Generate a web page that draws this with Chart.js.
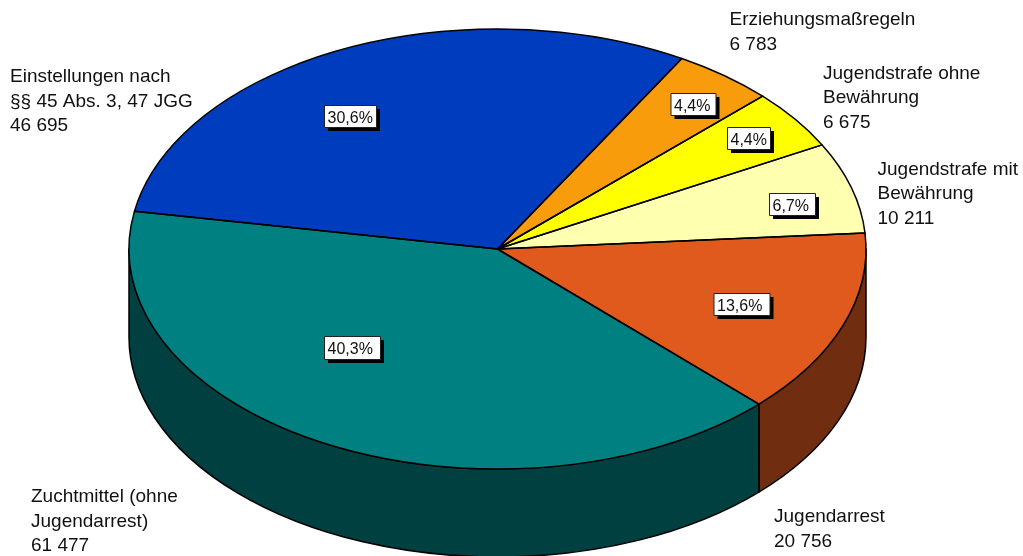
<!DOCTYPE html>
<html lang="de">
<head>
<meta charset="utf-8">
<title>Pie</title>
<script src="https://cdn.jsdelivr.net/npm/chart.js@4"></script>
<style>html,body{margin:0;padding:0;background:#fff;overflow:hidden}canvas{display:block}</style>
</head>
<body>
<canvas id="c" width="1023" height="556"></canvas>
<script>
const categories = ["Einstellungen nach §§ 45 Abs. 3, 47 JGG","Erziehungsmaßregeln","Jugendstrafe ohne Bewährung","Jugendstrafe mit Bewährung","Jugendarrest","Zuchtmittel (ohne Jugendarrest)"];
const values = [46695, 6783, 6675, 10211, 20756, 61477];
const valueLabels = ["46 695","6 783","6 675","10 211","20 756","61 477"];
const percentLabels = ["30,6%","4,4%","4,4%","6,7%","13,6%","40,3%"];
const nameLines = [["Einstellungen nach","§§ 45 Abs. 3, 47 JGG"],["Erziehungsmaßregeln"],["Jugendstrafe ohne","Bewährung"],["Jugendstrafe mit","Bewährung"],["Jugendarrest"],["Zuchtmittel (ohne","Jugendarrest)"]];
const topColors = ["#003CBE","#F89C0C","#FFFF00","#FFFFB0","#E05A1E","#008080"];
const sideColors = ["#001E5F","#7C4E06","#808000","#808058","#702D0F","#004040"];

// Layout of the drawing (not data)
const PIE = {cx:497.5, cy:249, rx:368.5, ry:220, depth:88, rotation:-80.15};
const TEXT_POS = [
  {x:10,y:82,lh:24.5},{x:729.5,y:25,lh:24.5},{x:823,y:78.5,lh:24.5},
  {x:877.5,y:174.5,lh:24.5},{x:774,y:522,lh:24.5},{x:31,y:502,lh:24.5}];
const BOX_POS = [
  {x:324.5,y:105.5,w:52,h:22},{x:671,y:93.5,w:45,h:22},{x:727.5,y:127.5,w:43,h:22},
  {x:769.5,y:193.5,w:46,h:22},{x:714,y:293.5,w:56,h:22},{x:324.5,y:336.5,w:56,h:23}];
const FONT = '19px "Liberation Sans", Arial, sans-serif';
const BOX_FONT = '16px "Liberation Sans", Arial, sans-serif';
const INK = '#111';
const LINE = 1.5;

const pie3d = {
  id:'pie3d',
  beforeDatasetsDraw(chart){
    const ctx = chart.ctx, arcs = chart.getDatasetMeta(0).data;
    const {cx,cy,rx,ry,depth} = PIE;
    // Side wall, only the part of each slice facing the viewer
    arcs.forEach((a,i)=>{
      const s = Math.max(a.startAngle,0), e = Math.min(a.endAngle,Math.PI);
      if (e <= s) return;
      ctx.beginPath();
      ctx.ellipse(cx,cy,rx,ry,0,s,e,false);
      ctx.ellipse(cx,cy+depth,rx,ry,0,e,s,true);
      ctx.closePath();
      ctx.fillStyle = sideColors[i];
      ctx.fill();
      ctx.strokeStyle = '#000'; ctx.lineWidth = LINE; ctx.lineJoin='round';
      ctx.stroke();
    });
    // Flatten the library's circular slices into the tilted top face
    const a0 = arcs[0];
    ctx.save();
    ctx.translate(cx,cy);
    ctx.scale(rx/a0.outerRadius, ry/a0.outerRadius);
    ctx.translate(-a0.x,-a0.y);
  },
  afterDatasetsDraw(chart){
    const ctx = chart.ctx, arcs = chart.getDatasetMeta(0).data;
    const {cx,cy,rx,ry} = PIE;
    ctx.restore();
    // Slice outlines with an even line width
    ctx.strokeStyle = '#000'; ctx.lineWidth = LINE; ctx.lineJoin='round';
    arcs.forEach(a=>{
      ctx.beginPath();
      ctx.moveTo(cx,cy);
      ctx.ellipse(cx,cy,rx,ry,0,a.startAngle,a.endAngle,false);
      ctx.closePath();
      ctx.stroke();
    });
    // Category labels
    ctx.font = FONT; ctx.textBaseline='alphabetic'; ctx.textAlign='left'; ctx.fillStyle=INK;
    categories.forEach((_,i)=>{
      const p = TEXT_POS[i];
      const lines = nameLines[i].concat(valueLabels[i]);
      lines.forEach((t,k)=>ctx.fillText(t,p.x,p.y+k*p.lh));
    });
    // Percentage boxes with a hard drop shadow
    percentLabels.forEach((t,i)=>{
      const b = BOX_POS[i];
      ctx.fillStyle='#000';
      ctx.fillRect(b.x+3.5,b.y+3.5,b.w,b.h);
      ctx.fillStyle='#fff';
      ctx.fillRect(b.x,b.y,b.w,b.h);
      ctx.strokeStyle='#222'; ctx.lineWidth=1;
      ctx.strokeRect(b.x,b.y,b.w,b.h);
      ctx.fillStyle=INK; ctx.font=BOX_FONT; ctx.textAlign='left'; ctx.textBaseline='alphabetic';
      ctx.fillText(t,b.x+3,b.y+17);
    });
  }
};

new Chart(document.getElementById('c'),{
  type:'pie',
  data:{labels:categories,datasets:[{data:values,backgroundColor:topColors,borderWidth:0,clip:false}]},
  options:{
    responsive:false,animation:false,
    rotation:PIE.rotation,
    radius:PIE.rx,
    layout:{padding:0},
    events:[],
    plugins:{legend:{display:false},tooltip:{enabled:false},title:{display:false}}
  },
  plugins:[pie3d]
});
</script>
</body>
</html>
